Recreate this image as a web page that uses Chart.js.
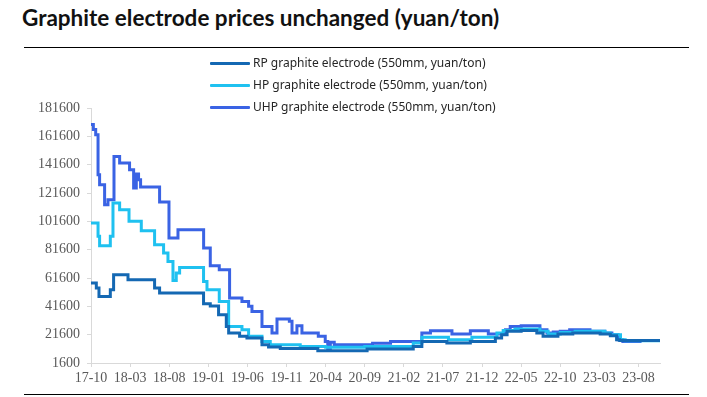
<!DOCTYPE html>
<html>
<head>
<meta charset="utf-8">
<script src="https://cdn.jsdelivr.net/npm/chart.js@4/dist/chart.umd.min.js"></script>
<style>
  body { margin: 0; background: #fff; }
  #wrap { position: relative; width: 707px; height: 397px; overflow: hidden; }
  #title { position: absolute; left: 22px; top: 4px; font: bold 22.5px Lato, "Noto Sans", sans-serif; color: #111; white-space: nowrap; }
  .rule { position: absolute; left: 24px; width: 665px; height: 1px; background: #000; }
  #legend { position: absolute; left: 210px; top: 53px; font: 12px "Noto Sans", sans-serif; color: #262626; }
  #legend div { height: 22px; line-height: 20px; white-space: nowrap; }
  #legend span { display: inline-block; width: 40px; height: 3px; vertical-align: middle; margin-right: 3px; border-radius: 1px; }
  canvas { position: absolute; left: 0; top: 0; }
</style>
</head>
<body>
<div id="wrap">
  <div id="title">Graphite electrode prices unchanged (yuan/ton)</div>
  <div class="rule" style="top:47px"></div>
  <div class="rule" style="top:394px"></div>
  <canvas id="line-chart" width="707" height="397"></canvas>
  <div id="legend"></div>
</div>
<script>
// x = months since 2017-10, values in yuan/ton
const tickLabels = ['17-10','18-03','18-08','19-01','19-06','19-11','20-04','20-09','21-02','21-07','21-12','22-05','22-10','23-03','23-08']
const yTicks = [1600, 21600, 41600, 61600, 81600, 101600, 121600, 141600, 161600, 181600]

const rpMonth = [0, 0.68, 1.02, 2.47, 2.89, 4.73, 8.13, 8.77, 14.39, 15.25, 16.31, 17.3, 17.6, 19.0, 19.94, 21.86, 22.7, 24.2, 29.0, 35.3, 41.2, 42.3, 45.5, 48.5, 51.7, 52.5, 53.2, 55.0, 57.0, 57.8, 59.7, 61.6, 65.1, 66.4, 67.2, 67.6, 72.75]
const rpPrice = [58100, 54500, 48600, 53300, 63900, 60400, 54500, 51000, 43500, 41800, 35700, 27400, 22800, 20400, 19200, 14500, 12900, 11800, 10300, 11500, 13300, 16800, 15700, 16800, 19200, 21600, 24000, 24600, 22800, 20400, 22100, 22800, 22100, 20900, 18000, 17400, 17400]

const hpMonth = [0, 0.9, 1.1, 2.47, 2.81, 3.66, 4.86, 6.43, 8.13, 9.28, 9.84, 10.48, 10.9, 11.33, 14.39, 14.83, 16.4, 17.6, 19.3, 20.15, 21.86, 22.92, 26.75, 30.0, 35.0, 41.2, 42.3, 45.7, 48.7, 51.9, 52.7, 54.2, 57.4, 58.45, 60.0, 61.9, 65.7, 66.4, 67.7, 68.3, 72.75]
const hpPrice = [100400, 91000, 84400, 91000, 114500, 109800, 101600, 95000, 85100, 79200, 73300, 59900, 65100, 69100, 59200, 53300, 45100, 27400, 25100, 20400, 16800, 14500, 13300, 12700, 13300, 15700, 19700, 18000, 19700, 22800, 24600, 25600, 24000, 22100, 23200, 24000, 22800, 21600, 18000, 17300, 17300]

const uhpMonth = [0, 0.3, 0.6, 0.9, 1.1, 1.74, 2.17, 2.94, 3.66, 4.93, 5.45, 5.79, 6.08, 6.34, 8.77, 9.97, 11.12, 14.4, 15.25, 16.4, 17.72, 19.3, 20.15, 20.58, 21.86, 23.14, 23.78, 25.36, 25.7, 26.33, 26.97, 29.06, 29.95, 30.27, 30.6, 31.1, 36.0, 38.3, 42.3, 43.4, 46.15, 48.5, 50.8, 53.0, 53.6, 55.0, 57.4, 58.3, 59.1, 60.0, 61.2, 63.8, 65.7, 66.6, 67.4, 68.0, 70.2, 72.75]
const uhpPrice = [170000, 166500, 162800, 134500, 127500, 113300, 116900, 147400, 142800, 138000, 125100, 135000, 130900, 125800, 115300, 89800, 95700, 82800, 70300, 67500, 47500, 45100, 41600, 38000, 27400, 22800, 32700, 31000, 22800, 27900, 22800, 20400, 16800, 11000, 16200, 14500, 15500, 16800, 22800, 24400, 22100, 24400, 22100, 25000, 27400, 27900, 25100, 22800, 23500, 24000, 25100, 24000, 22800, 21600, 18000, 16800, 17500, 17500]

const seriesNames = ['RP graphite electrode (550mm, yuan/ton)', 'HP graphite electrode (550mm, yuan/ton)', 'UHP graphite electrode (550mm, yuan/ton)']
const seriesColors = ['#1468b3', '#1fc1f0', '#3a63e4']

function toPoints(months, prices) {
    return months.map((m, i) => ({x: m, y: prices[i]}))
}

const allData = [toPoints(rpMonth, rpPrice), toPoints(hpMonth, hpPrice), toPoints(uhpMonth, uhpPrice)]

const axisColor = '#d9d9d9'
const tickFont = {family: '"Liberation Serif", "Times New Roman", serif', size: 14}

const chart = new Chart(document.getElementById('line-chart'), {
    type: 'line',
    data: {
        datasets: allData.map((pts, i) => ({
            label: seriesNames[i],
            data: pts,
            borderColor: seriesColors[i],
            backgroundColor: seriesColors[i],
            borderWidth: 3,
            pointRadius: 0,
            stepped: true,
            fill: false
        }))
    },
    options: {
        responsive: false,
        animation: false,
        layout: {padding: {top: 108, right: 47, bottom: 8, left: 0}},
        plugins: {legend: {display: false}, tooltip: {enabled: false}},
        scales: {
            x: {
                type: 'linear',
                min: 0,
                max: 72.75,
                afterBuildTicks: s => { s.ticks = tickLabels.map((t, i) => ({value: i * 5})) },
                afterFit: s => { s.height = 26 },
                grid: {drawOnChartArea: false, color: axisColor, tickLength: 4},
                border: {color: axisColor},
                ticks: {
                    padding: 3,
                    color: '#595959',
                    font: tickFont,
                    maxRotation: 0,
                    autoSkip: false,
                    callback: v => tickLabels[Math.round(v / 5)]
                }
            },
            y: {
                min: 1600,
                max: 181600,
                afterBuildTicks: s => { s.ticks = yTicks.map(v => ({value: v})) },
                afterFit: s => { s.width = 91 },
                grid: {drawOnChartArea: false, color: axisColor, tickLength: 4},
                border: {color: axisColor},
                ticks: {
                    padding: 7,
                    color: '#595959',
                    font: tickFont,
                    callback: v => String(v)
                }
            }
        }
    }
})

// legend stacked vertically like the original
const legend = document.getElementById('legend')
chart.data.datasets.forEach(ds => {
    const row = document.createElement('div')
    row.innerHTML = '<span style="background:' + ds.borderColor + '"></span>' + ds.label
    legend.append(row)
})
</script>
</body>
</html>
